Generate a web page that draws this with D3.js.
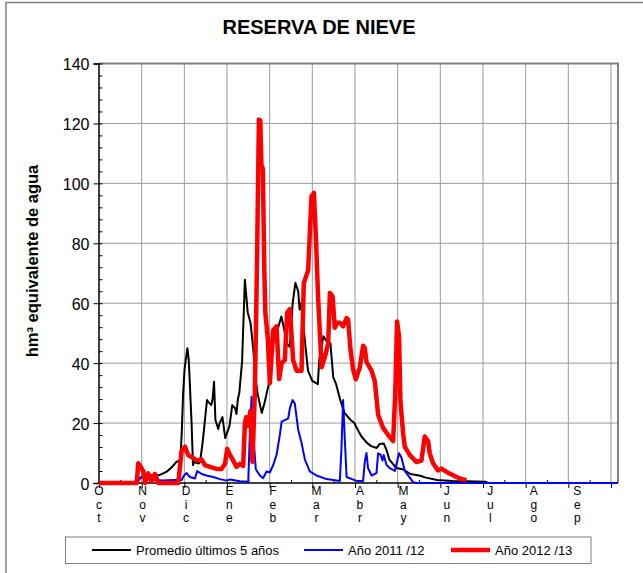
<!DOCTYPE html>
<html><head><meta charset="utf-8">
<script src="https://cdn.jsdelivr.net/npm/d3@7"></script>
<style>
body{margin:0;background:#fff}
svg{display:block}
text{font-family:Arial,"Liberation Sans",sans-serif}
</style>
</head><body>
<script>
// ---- data ----
const title = "RESERVA DE NIEVE";
const yLabel = "hm³ equivalente de agua";
const monthLabels = ["Oct","Nov","Dic","Ene","Feb","Mar","Abr","May","Jun","Jul","Ago","Sep"];
const yTicks = [0,20,40,60,80,100,120,140];
const seriesNames = ["Promedio últimos 5 años","Año 2011 /12","Año 2012 /13"];
const seriesColors = ["#000000","#0000ff","#ff0000"];

// day of hydrological year (0 = 1 Oct) and hm3
const promedioDays = [0,22,26,29,34,39,43,48,52,55,58,59,60,61,63,64,66,67,68,71,72,74,77,78,80,81,82,83,85,86,88,90,93,95,97,98,99,100,102,104,106,108,110,112,113,116,118,121,123,125,128,130,131,134,136,138,140,142,143,144,147,149,152,156,157,160,162,165,167,169,172,175,179,182,185,187,191,194,198,200,203,205,207,212,217,222,229,233,241,252,262,276,277];
const promedioValues = [0,0,0.5,1.6,2.6,2.6,2.6,3.7,5.3,7,7.5,17,30,38,45,41,20,6,7,6.5,7,14,27.7,27,26,28,33.8,21,18,20,22,15,19,26,25,23,28,30,40.5,67.8,57,53.5,44.5,33.4,30,23.4,26.7,33,42.3,49,52.3,55.6,53.5,46.5,45.4,59.6,66.8,64,57.9,60,46.5,37.5,34.1,33,41,49,47.5,46.5,35.3,33,27.7,23.4,21.2,20,17.3,15.6,13.4,12.3,11.7,13,13.2,11,7.8,5,4.5,3,2.4,1.8,1,0.7,0.6,0.4,0];

const y2011Days = [0,27.1,27.8,29.9,31.6,33.5,38.7,45.8,52.9,58.9,60.6,62.5,64.8,68.4,70.0,73.2,76.7,81.4,86.2,91.0,93.3,100.4,106.4,107.6,108.8,109.7,111.8,114.7,117.0,119.5,121.8,124.2,126.6,128.9,130.2,132.5,134.9,136.1,138.0,139.6,142.0,144.4,146.8,150.3,155.1,162.2,171.7,172.9,174.0,175.3,176.5,183.6,188.3,189.5,190.7,191.8,194.3,197.8,199.0,200.7,202.1,203.0,205.0,207.3,210.9,213.9,215.6,218.0,221.6,223.9,226.3,369.7];
const y2011Values = [0,0,0.5,2,2,1.3,1,0.8,1,1,2.5,3.3,2,1.5,4,3,2.5,2,1.3,0.8,1.2,0.6,0.4,17.4,28.8,18,4.6,2.5,1.6,3.9,3.5,6,9.4,16,20.5,21,21.6,25,27.7,26.5,17.8,13.4,7.8,3.9,2.5,1.3,0.7,12,27.7,14,2,0.7,0.7,7.2,10,5,2.5,3.3,9.9,9.5,7.5,9.3,6,5,4,9.9,8.5,4,1.8,0.3,0,0];

const y2012Days = [0,26.9,28.0,29.7,31.6,32.8,35.1,37.4,39.9,42.2,56.5,58.9,61.3,63.6,66.0,69.6,73.2,75.5,79.1,83.8,87.4,89.8,91.4,93.3,95.7,98.1,100.4,102.8,104.0,105.1,106.4,107.9,109.4,111.1,112.6,114.0,115.0,115.8,116.8,117.9,118.6,120.4,121.8,124.2,126.6,128.4,130.2,132.5,134.1,136.1,138.4,140.8,144.4,146.0,149.1,151.5,153.2,154.6,156.2,158.7,161.0,163.4,164.6,166.5,168.1,169.8,171.7,174.0,176.5,177.6,179.3,181.2,183.1,185.9,188.3,189.5,190.7,194.3,196.6,199.0,202.5,206.1,209.7,211.2,212.5,213.9,214.9,216.8,218.0,221.6,226.3,229.9,232.2,234.6,235.8,238.2,241.7,244.1,247.7,252.4,257.2,261.9];
const y2012Values = [0,0,6.6,5.5,3.9,0,3.2,0.5,3,0,0,10.7,12.1,9.3,8.7,7.5,7.8,6,5.4,4.7,4.7,6.4,11.4,9.5,7.5,5.4,6.4,5.7,20,22,19,24,7,30,72,121.3,121,106,105,70,56.8,48,33.3,51,52.3,34.7,40,41,56.8,58,41,37.5,37.5,66.7,71,95.7,96.8,82.4,62,38.6,42,46.5,63.4,62.3,51.8,53.5,53.5,52.3,55,54.5,44.5,37.8,34.6,38.5,45.8,45,40.4,37.5,34,22.8,18.4,16,14,30,53.9,49,27.2,16.6,12.1,9.3,7,7.5,15.5,14,9.9,6.5,4.2,4.8,3.7,2.6,1.5,0.9];

// ---- layout ----
const W = 643, H = 573;
const svg = d3.select("body").append("svg").attr("width", W).attr("height", H);

// outer chart border (only top/left visible)
svg.append("rect").attr("x", 6).attr("y", 2.5).attr("width", 700).attr("height", 700)
  .attr("fill", "none").attr("stroke", "#808080").attr("stroke-width", 1.5);

const x = d3.scaleLinear().domain([0, 370]).range([99, 618]);
const y = d3.scaleLinear().domain([0, 140]).range([483, 63.5]);
const monthLen = 365 / 12;

// gridlines
const g = svg.append("g");
g.selectAll("line.h").data(yTicks.filter(d => d > 0 && d < 140)).join("line")
  .attr("x1", x(0)).attr("x2", x(370)).attr("y1", d => y(d)).attr("y2", d => y(d))
  .attr("stroke", "#9a9a9a").attr("stroke-width", 1);
g.selectAll("line.v").data(d3.range(1, 13)).join("line")
  .attr("x1", d => x(d * monthLen)).attr("x2", d => x(d * monthLen))
  .attr("y1", y(0)).attr("y2", y(140))
  .attr("stroke", "#9a9a9a").attr("stroke-width", 1);

// plot border top / right
svg.append("path")
  .attr("d", `M${x(0)},${y(140)}H${x(370)}V${y(0)}`)
  .attr("fill", "none").attr("stroke", "#808080").attr("stroke-width", 2);

// y axis
const yAxis = svg.append("g").attr("transform", `translate(${x(0) - 0.5},0)`)
  .call(d3.axisLeft(y).tickValues(yTicks).tickSize(5).tickPadding(4));
yAxis.select(".domain").attr("stroke", "#000").attr("stroke-width", 1.5);
yAxis.selectAll("text").attr("font-size", 16).attr("fill", "#000")
  .attr("font-family", "Arial, 'Liberation Sans', sans-serif").attr("dy", "0.38em");
svg.append("g").attr("transform", `translate(${x(0) - 0.5},0)`)
  .call(d3.axisRight(y).tickValues(d3.range(0, 141, 4)).tickSize(4).tickFormat(""))
  .select(".domain").remove();

// x axis
const xAxis = svg.append("g").attr("transform", `translate(0,${y(0)})`)
  .call(d3.axisBottom(x).tickValues(d3.range(0, 13).map(d => d * monthLen)).tickSize(5).tickFormat(""));
xAxis.select(".domain").attr("stroke", "#000").attr("stroke-width", 1.5).attr("d", `M${x(0)},0H${x(370)}`);
svg.append("g").attr("transform", `translate(0,${y(0)})`)
  .call(d3.axisTop(x).tickValues(d3.range(0, 12).map(d => (d + 0.5) * monthLen)).tickSize(3).tickFormat(""))
  .select(".domain").remove();

// series (drawn over axes)
const line = d3.line().x(d => x(d[0])).y(d => y(d[1]));
const series = [
  {days: promedioDays, values: promedioValues, w: 2},
  {days: y2011Days, values: y2011Values, w: 2},
  {days: y2012Days, values: y2012Values, w: 4.5}
];
series.forEach((s, i) => {
  svg.append("path").datum(s.days.map((d, k) => [d, s.values[k]]))
    .attr("d", line).attr("fill", "none")
    .attr("stroke", seriesColors[i]).attr("stroke-width", s.w)
    .attr("stroke-linejoin", "round");
});

// month labels, stacked letters
monthLabels.forEach((m, i) => {
  const t = svg.append("text").attr("text-anchor", "middle").attr("font-size", 12).attr("fill", "#000");
  m.split("").forEach((ch, k) => {
    t.append("tspan").attr("x", x(i * 31)).attr("y", 495 + k * 13.7).text(ch);
  });
});

// title
svg.append("text").attr("x", 319).attr("y", 34).attr("text-anchor", "middle")
  .attr("font-size", 20).attr("font-weight", "bold").text(title);

// y label
svg.append("text").attr("transform", "translate(38,261) rotate(-90)")
  .attr("text-anchor", "middle").attr("font-size", 16.5).attr("font-weight", "bold").text(yLabel);

// legend
const lg = svg.append("g");
lg.append("rect").attr("x", 65.5).attr("y", 537).attr("width", 525.5).attr("height", 26.5)
  .attr("fill", "#fff").attr("stroke", "#808080").attr("stroke-width", 1);
const legendX = [92, 304, 451];
seriesNames.forEach((n, i) => {
  lg.append("line").attr("x1", legendX[i]).attr("x2", legendX[i] + 39).attr("y1", 550).attr("y2", 550)
    .attr("stroke", seriesColors[i]).attr("stroke-width", series[i].w);
  lg.append("text").attr("x", legendX[i] + 44).attr("y", 554.5).attr("font-size", 13).text(n);
});
</script>
</body></html>
